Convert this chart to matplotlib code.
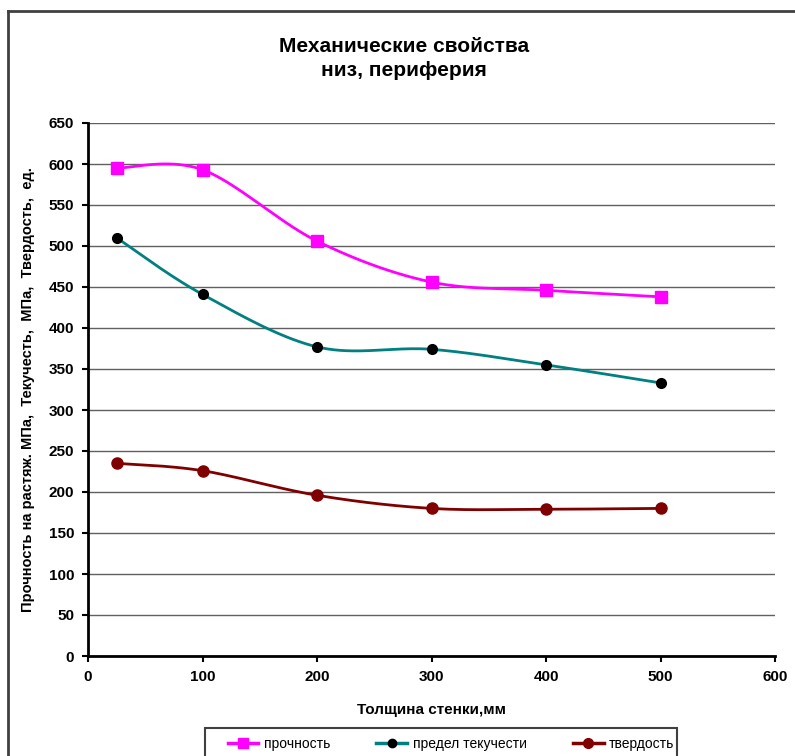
import numpy as np
import matplotlib
matplotlib.use('Agg')
import matplotlib.pyplot as plt
from matplotlib.lines import Line2D
from matplotlib.patches import Rectangle

plt.rcParams['font.family'] = ['Liberation Sans', 'DejaVu Sans']

# data
thickness = [25, 100, 200, 300, 400, 500]
strength = [595, 593, 506, 456, 446, 438]
yield_pt = [510, 441, 377, 374, 355, 333]
hardness = [235, 226, 196, 180, 179, 180]

labels = ['прочность', 'предел текучести', 'твердость']
colors = ['#FF00FF', '#008080', '#800000']


def smooth(x, y, n=40):
    # Excel-like smoothing: Catmull-Rom bezier through the points
    x = np.asarray(x, float)
    y = np.asarray(y, float)
    px = np.concatenate([[x[0]], x, [x[-1]]])
    py = np.concatenate([[y[0]], y, [y[-1]]])
    xs, ys = [], []
    t = np.linspace(0, 1, n)
    for i in range(1, len(px) - 2):
        p0 = np.array([px[i], py[i]])
        p3 = np.array([px[i + 1], py[i + 1]])
        c1 = p0 + (np.array([px[i + 1], py[i + 1]]) - np.array([px[i - 1], py[i - 1]])) / 6
        c2 = p3 - (np.array([px[i + 2], py[i + 2]]) - np.array([px[i], py[i]])) / 6
        b = ((1 - t) ** 3)[:, None] * p0 + (3 * (1 - t) ** 2 * t)[:, None] * c1 \
            + (3 * (1 - t) * t ** 2)[:, None] * c2 + (t ** 3)[:, None] * p3
        xs.extend(b[:, 0])
        ys.extend(b[:, 1])
    return xs, ys


W, H = 795, 756
fig = plt.figure(figsize=(W / 100, H / 100), dpi=100)

# outer chart border
fig.add_artist(Line2D([8 / W, 8 / W], [0, 1 - 11 / H], color='#404040', lw=2))
fig.add_artist(Line2D([8 / W, 1], [1 - 11 / H, 1 - 11 / H], color='#404040', lw=2))

ax = fig.add_axes([88 / W, 1 - 656 / H, 687 / W, 533 / H])

series = [
    (strength, 's', colors[0], colors[0], 8),
    (yield_pt, 'o', colors[1], 'black', 7),
    (hardness, 'o', colors[2], colors[2], 8),
]
handles = []
for (vals, mk, c, mc, ms), lab in zip(series, labels):
    sx, sy = smooth(thickness, vals)
    ax.plot(sx, sy, color=c, lw=2, zorder=3)
    ax.plot(thickness, vals, linestyle='none', marker=mk, color=mc, ms=ms, zorder=4)
    handles.append(Line2D([], [], color=c, lw=2.5, marker=mk, mfc=mc, mec=mc, ms=ms - 1, label=lab))

ax.set_xlim(0, 600)
ax.set_ylim(0, 650)
ax.set_xticks(range(0, 601, 100))
ax.set_yticks(range(0, 651, 50))
ax.grid(axis='y', color='#606060', lw=1)
ax.set_axisbelow(True)
for s in ['top', 'right']:
    ax.spines[s].set_visible(False)
for s in ['left', 'bottom']:
    ax.spines[s].set_linewidth(2)
ax.tick_params(direction='out', length=4, width=1.5, labelsize=11, pad=6)
for lab in ax.get_xticklabels() + ax.get_yticklabels():
    lab.set_fontweight('bold')

ax.set_xlabel('Толщина стенки,мм', fontsize=11, fontweight='bold', labelpad=14)
ax.set_ylabel('Прочность на растяж. МПа,  Текучесть,  МПа,  Твердость,  ед.',
              fontsize=10.5, fontweight='bold', labelpad=10)

fig.text(404 / W, 1 - 46 / H, 'Механические свойства', ha='center', va='center',
         fontsize=15, fontweight='bold')
fig.text(404 / W, 1 - 71 / H, 'низ, периферия', ha='center', va='center',
         fontsize=15, fontweight='bold')

# legend box drawn separately, entries placed inside it
fig.add_artist(Rectangle((205 / W, -0.01), 472 / W, 1 - 728 / H + 0.01,
                         transform=fig.transFigure, fill=False,
                         edgecolor='#404040', lw=1.5))
leg = fig.legend(handles=handles, loc='upper left', ncol=3, mode='expand',
                 bbox_to_anchor=(222 / W, 0, 458 / W, 1 - 731 / H),
                 frameon=False, fontsize=10,
                 handlelength=2.2, handletextpad=0.4, borderaxespad=0,
                 columnspacing=1, borderpad=0.4)

fig.savefig('out.png', dpi=100)
